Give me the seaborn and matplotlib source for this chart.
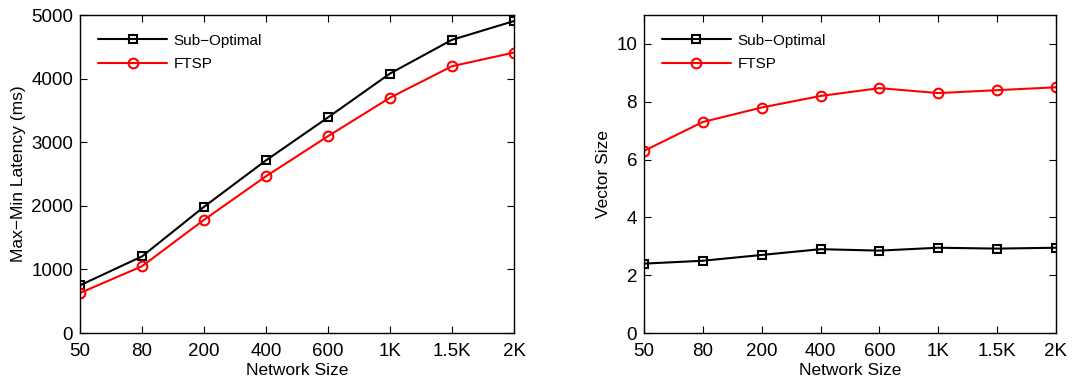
import matplotlib
matplotlib.use("Agg")
import matplotlib.pyplot as plt
import seaborn as sns
import pandas as pd

network_sizes = ["50", "80", "200", "400", "600", "1K", "1.5K", "2K"]
methods = ["Sub\u2212Optimal", "FTSP"]

latency_sub = [750, 1205, 1985, 2715, 3390, 4080, 4610, 4905]
latency_ftsp = [630, 1050, 1780, 2465, 3095, 3700, 4195, 4410]

vector_sub = [2.4, 2.5, 2.7, 2.9, 2.85, 2.95, 2.92, 2.95]
vector_ftsp = [6.3, 7.3, 7.8, 8.2, 8.47, 8.3, 8.4, 8.5]

colors = {methods[0]: "black", methods[1]: "red"}
markers = {methods[0]: "s", methods[1]: "o"}


def long_frame(sub, ftsp):
    rows = []
    for name, vals in zip(methods, (sub, ftsp)):
        for i, v in enumerate(vals):
            rows.append({"pos": i, "value": v, "method": name})
    return pd.DataFrame(rows)


sns.set_theme(style="white")
plt.rcParams["font.family"] = ["Liberation Sans", "DejaVu Sans"]
plt.rcParams["axes.unicode_minus"] = True
plt.rcParams["text.color"] = "black"
plt.rcParams["axes.labelcolor"] = "black"

fig = plt.figure(figsize=(10.92, 3.83), dpi=100)
ax1 = fig.add_axes([0.0733, 0.1305, 0.3974, 0.8303])
ax2 = fig.add_axes([0.5897, 0.1305, 0.3773, 0.8303])


def draw(ax, sub, ftsp, ylim, yticks, ylabel):
    df = long_frame(sub, ftsp)
    sns.lineplot(data=df, x="pos", y="value", hue="method", style="method",
                 markers=markers, dashes=False, palette=colors,
                 hue_order=methods, style_order=methods,
                 linewidth=1.5, ax=ax, legend=False)
    for line in ax.lines:
        line.set_markerfacecolor("none")
        line.set_markeredgecolor(line.get_color())
        line.set_markeredgewidth(1.5)
        line.set_markersize(7 if line.get_marker() == "o" else 5.5)
    handles = ax.lines[:2]
    ax.legend(handles, methods, loc="upper left", frameon=False,
              handlelength=4.5, fontsize=11, bbox_to_anchor=(0.01, 0.985),
              labelspacing=0.65, handletextpad=0.45)
    ax.set_xlim(0, len(network_sizes) - 1)
    ax.set_ylim(*ylim)
    ax.set_xticks(range(len(network_sizes)))
    ax.set_xticklabels(network_sizes)
    ax.set_yticks(yticks)
    ax.set_xlabel("Network Size", fontsize=12.5, labelpad=2, color="black")
    ax.set_ylabel(ylabel, fontsize=12.5, labelpad=4, color="black")
    ax.tick_params(direction="in", length=5, width=0.8, top=True, right=True,
                   bottom=True, left=True, labelsize=13.5, colors="black")
    ax.tick_params(axis="x", pad=7)
    ax.tick_params(axis="y", pad=5)
    for sp in ax.spines.values():
        sp.set_color("black")
        sp.set_linewidth(1.0)
    ax.grid(False)


draw(ax1, latency_sub, latency_ftsp, (0, 5000), [0, 1000, 2000, 3000, 4000, 5000],
     "Max\u2212Min Latency (ms)")
draw(ax2, vector_sub, vector_ftsp, (0, 11), [0, 2, 4, 6, 8, 10], "Vector Size")

fig.savefig("out.png", dpi=100)
